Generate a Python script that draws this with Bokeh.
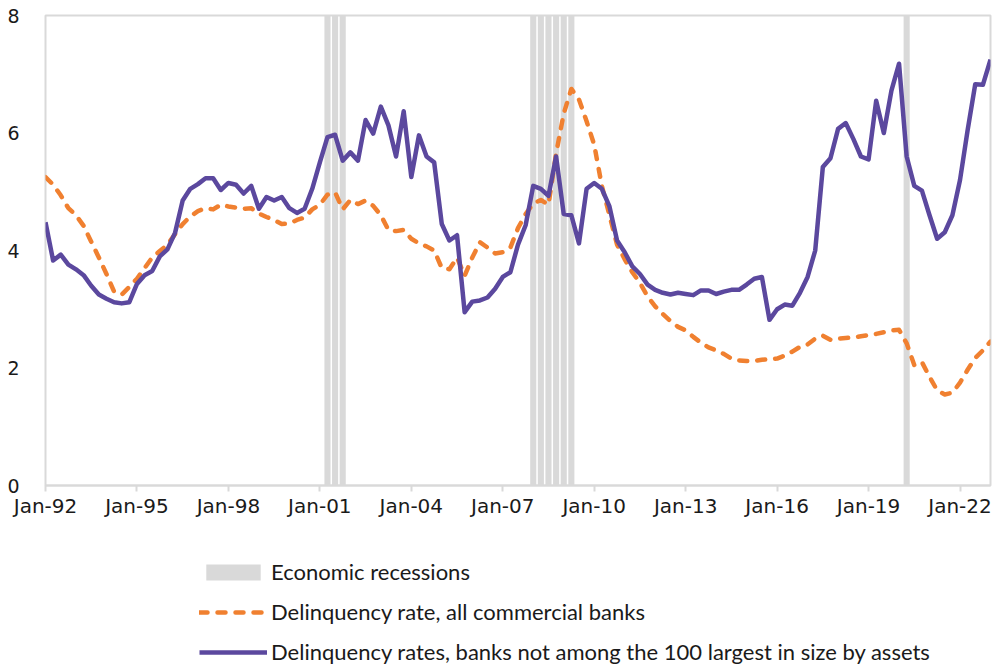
from bokeh.plotting import figure
from bokeh.models import Range1d, FixedTicker, Legend, LegendItem
from bokeh.layouts import column
from bokeh.embed import file_html
from bokeh.resources import INLINE

# ---- data (quarterly, 1992Q1 .. 2023Q1) ----
start_year = 1992
small_banks = [
    4.48, 3.83, 3.93, 3.76, 3.68, 3.58, 3.40, 3.25, 3.18, 3.12, 3.10, 3.12,
    3.43, 3.58, 3.65, 3.90, 4.02, 4.30, 4.85, 5.05, 5.13, 5.23, 5.23, 5.03,
    5.15, 5.12, 4.97, 5.10, 4.71, 4.91, 4.85, 4.91, 4.72, 4.64, 4.71, 5.05,
    5.50, 5.93, 5.97, 5.53, 5.67, 5.53, 6.22, 5.99, 6.45, 6.13, 5.60, 6.37,
    5.25, 5.96, 5.60, 5.50, 4.45, 4.17, 4.26, 2.95, 3.13, 3.15, 3.20, 3.35,
    3.55, 3.63, 4.10, 4.43, 5.10, 5.05, 4.93, 5.60, 4.62, 4.60, 4.12, 5.05,
    5.15, 5.05, 4.75, 4.17, 3.97, 3.73, 3.60, 3.42, 3.33, 3.28, 3.25, 3.28,
    3.26, 3.24, 3.32, 3.32, 3.26, 3.30, 3.33, 3.33, 3.42, 3.52, 3.55, 2.82,
    3.00, 3.08, 3.06, 3.28, 3.55, 4.00, 5.42, 5.57, 6.07, 6.17, 5.90, 5.60,
    5.55, 6.55, 6.00, 6.72, 7.18, 5.60, 5.10, 5.02, 4.60, 4.20, 4.31, 4.60,
    5.20, 6.05, 6.83, 6.82, 7.25,
]
all_banks = [
    5.25, 5.12, 4.94, 4.72, 4.60, 4.42, 4.15, 3.88, 3.60, 3.30, 3.25, 3.38,
    3.52, 3.70, 3.88, 3.99, 4.10, 4.28, 4.45, 4.58, 4.67, 4.72, 4.70, 4.78,
    4.75, 4.73, 4.71, 4.72, 4.63, 4.57, 4.52, 4.45, 4.46, 4.52, 4.56, 4.70,
    4.78, 4.95, 4.99, 4.70, 4.86, 4.79, 4.85, 4.76, 4.60, 4.35, 4.33, 4.35,
    4.20, 4.12, 4.07, 4.00, 3.70, 3.68, 3.88, 3.57, 3.88, 4.14, 4.05, 3.95,
    3.97, 4.05, 4.38, 4.62, 4.80, 4.86, 4.78, 5.65, 6.33, 6.75, 6.57, 6.20,
    5.80, 5.10, 4.60, 4.10, 3.85, 3.63, 3.45, 3.22, 3.05, 2.92, 2.80, 2.70,
    2.64, 2.53, 2.43, 2.35, 2.30, 2.24, 2.16, 2.13, 2.12, 2.12, 2.14, 2.15,
    2.16, 2.21, 2.28, 2.36, 2.40, 2.50, 2.55, 2.48, 2.50, 2.51, 2.52, 2.54,
    2.56, 2.58, 2.61, 2.64, 2.65, 2.42, 2.05, 2.10, 1.85, 1.62, 1.55, 1.58,
    1.75, 1.97, 2.17, 2.30, 2.45,
]
recession_quarters = [2001.25, 2001.50, 2001.75,
                      2008.00, 2008.25, 2008.50, 2008.75, 2009.00, 2009.25,
                      2020.25]
tick_years = [1992, 1995, 1998, 2001, 2004, 2007, 2010, 2013, 2016, 2019, 2022]
tick_labels = ["Jan-92", "Jan-95", "Jan-98", "Jan-01", "Jan-04", "Jan-07",
               "Jan-10", "Jan-13", "Jan-16", "Jan-19", "Jan-22"]
y_ticks = [0, 2, 4, 6, 8]
series_names = ["Economic recessions",
                "Delinquency rate, all commercial banks",
                "Delinquency rates, banks not among the 100 largest in size by assets"]

x = [start_year + i / 4 for i in range(len(small_banks))]

PURPLE = "#5b489e"
ORANGE = "#f08030"
GREY = "#d9d9d9"
TICK_FONT = "DejaVu Sans"
LEG_FONT = "Lato"
TXT = "#1a1a1a"
ORANGE_STYLE = dict(line_color=ORANGE, line_width=4.5, line_dash="8 10",
                    line_cap="round", line_join="round")
PURPLE_STYLE = dict(line_color=PURPLE, line_width=4.5, line_join="round")

# ---- main chart ----
p = figure(width=993, height=520, output_backend="svg", toolbar_location=None,
           x_range=Range1d(1992, 2023), y_range=Range1d(0, 8),
           min_border_left=45, min_border_right=3, min_border_top=15,
           min_border_bottom=35)
p.background_fill_color = "white"
p.border_fill_color = "white"
p.outline_line_color = GREY
p.outline_line_width = 2
p.xgrid.visible = False
p.ygrid.visible = False

p.vbar(x=recession_quarters, width=0.2, top=8, bottom=0,
       fill_color=GREY, line_color=None)
p.line(x, all_banks, **ORANGE_STYLE)
p.line(x, small_banks, **PURPLE_STYLE)

xa = p.xaxis[0]
xa.ticker = FixedTicker(ticks=tick_years)
xa.major_label_overrides = {t: l for t, l in zip(tick_years, tick_labels)}
xa.axis_line_color = GREY
xa.axis_line_width = 2
xa.major_tick_line_color = GREY
xa.major_tick_line_width = 2
xa.major_tick_out = 6
xa.major_tick_in = 0
xa.minor_tick_line_color = None
xa.major_label_standoff = 2
xa.major_label_text_font = TICK_FONT
xa.major_label_text_font_size = "20px"
xa.major_label_text_color = TXT

ya = p.yaxis[0]
ya.ticker = FixedTicker(ticks=y_ticks)
ya.axis_line_color = None
ya.major_tick_line_color = None
ya.minor_tick_line_color = None
ya.major_label_standoff = 20
ya.major_label_text_font = TICK_FONT
ya.major_label_text_font_size = "19px"
ya.major_label_text_color = TXT

# ---- legend area (separate strip below the chart) ----
lf = figure(width=993, height=147, output_backend="svg", toolbar_location=None,
            x_range=Range1d(0, 1), y_range=Range1d(0, 1),
            x_axis_location=None, y_axis_location=None,
            min_border_left=0, min_border_right=0, min_border_top=0,
            min_border_bottom=0)
lf.grid.visible = False
lf.outline_line_color = None
lf.background_fill_color = "white"
lf.border_fill_color = "white"
# legend proxies: placed outside the visible range of this strip
r_rec = lf.vbar(x=[-5], width=0.2, top=[-5], bottom=-6, fill_color=GREY, line_color=None)
r_or = lf.line([-5, -4], [-5, -5], **ORANGE_STYLE)
r_pu = lf.line([-5, -4], [-5, -5], **PURPLE_STYLE)

legend = Legend(items=[
    LegendItem(label=series_names[0], renderers=[r_rec]),
    LegendItem(label=series_names[1], renderers=[r_or]),
    LegendItem(label=series_names[2], renderers=[r_pu]),
], location=(154, 2), orientation="vertical")
legend.glyph_width = 68
legend.glyph_height = 20
legend.label_standoff = 4
legend.spacing = 13
legend.padding = 0
legend.margin = 0
legend.border_line_color = None
legend.background_fill_alpha = 0
legend.label_text_font = LEG_FONT
legend.label_text_font_size = "22px"
legend.label_text_color = TXT
legend.label_height = 20
lf.add_layout(legend)

open("out.html", "w").write(file_html(column(p, lf, spacing=0), INLINE))
